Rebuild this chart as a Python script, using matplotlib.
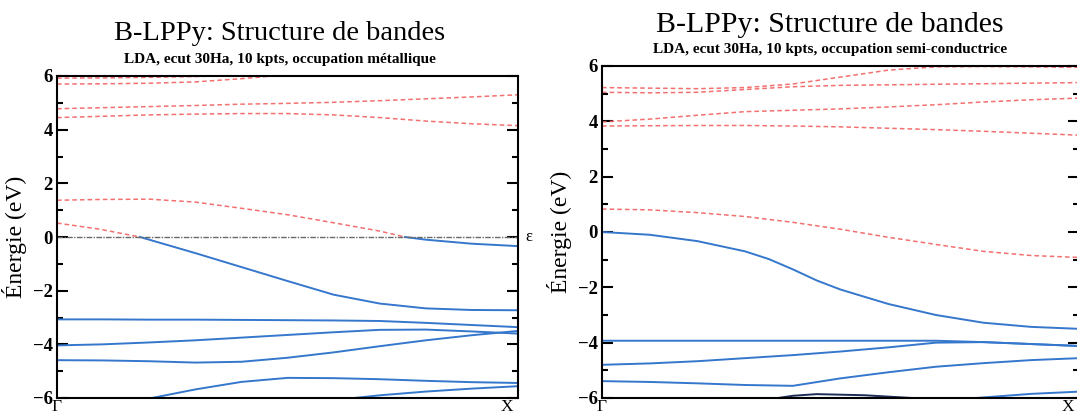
import numpy as np
import matplotlib
matplotlib.use("Agg")
import matplotlib.pyplot as plt
from matplotlib.ticker import MultipleLocator

plt.rcParams['font.family'] = ['Liberation Serif', 'DejaVu Serif']

# k-path fraction between Gamma and X
k = [0.0, 0.1, 0.2, 0.3, 0.4, 0.5, 0.6, 0.7, 0.8, 0.9, 1.0]

# ---- left panel: metallic occupation (energies in eV) ----
met_cond = [
    (k, [5.92, 5.93, 5.95, 5.98, 6.02, 6.05, 6.05, 6.05, 6.05, 6.03, 6.02]),
    (k, [5.70, 5.71, 5.73, 5.78, 5.90, 6.05, 6.10, 6.12, 6.12, 6.12, 6.12]),
    (k, [4.78, 4.82, 4.86, 4.90, 4.95, 4.98, 5.02, 5.08, 5.15, 5.22, 5.30]),
    (k, [4.45, 4.50, 4.55, 4.58, 4.60, 4.60, 4.55, 4.45, 4.32, 4.22, 4.15]),
    ([0.0, 0.1, 0.2, 0.3, 0.4, 0.5, 0.6, 0.7, 0.755],
     [1.37, 1.40, 1.41, 1.30, 1.07, 0.83, 0.53, 0.22, 0.0]),
    ([0.0, 0.093, 0.18], [0.52, 0.29, 0.0]),
]
met_val = [
    ([0.755, 0.8, 0.9, 1.0], [0.0, -0.10, -0.25, -0.34]),
    ([0.18, 0.3, 0.4, 0.5, 0.6, 0.7, 0.8, 0.9, 1.0],
     [0.0, -0.60, -1.12, -1.64, -2.15, -2.48, -2.66, -2.72, -2.73]),
    (k, [-3.07, -3.07, -3.08, -3.08, -3.09, -3.10, -3.11, -3.13, -3.20, -3.28, -3.36]),
    (k, [-4.04, -4.00, -3.93, -3.85, -3.75, -3.65, -3.55, -3.46, -3.45, -3.52, -3.60]),
    (k, [-4.59, -4.60, -4.63, -4.68, -4.65, -4.50, -4.30, -4.07, -3.85, -3.66, -3.50]),
    (k, [-6.60, -6.30, -6.02, -5.68, -5.40, -5.25, -5.26, -5.30, -5.36, -5.41, -5.44]),
    ([0.5, 0.6, 0.7, 0.8, 0.9, 1.0], [-6.30, -6.08, -5.90, -5.76, -5.65, -5.56]),
]

# ---- right panel: semiconductor occupation ----
sc_cond = [
    (k, [5.22, 5.20, 5.18, 5.22, 5.35, 5.60, 5.85, 5.97, 5.98, 5.97, 5.95]),
    (k, [5.05, 5.03, 5.05, 5.15, 5.25, 5.30, 5.32, 5.34, 5.36, 5.38, 5.40]),
    (k, [3.98, 4.08, 4.22, 4.35, 4.40, 4.45, 4.52, 4.60, 4.70, 4.78, 4.84]),
    (k, [3.83, 3.84, 3.85, 3.85, 3.83, 3.80, 3.75, 3.70, 3.64, 3.57, 3.50]),
    (k, [0.83, 0.80, 0.70, 0.56, 0.35, 0.10, -0.19, -0.45, -0.70, -0.85, -0.92]),
]
sc_val = [
    ([0.0, 0.1, 0.2, 0.3, 0.35, 0.4, 0.45, 0.5, 0.6, 0.7, 0.8, 0.9, 1.0],
     [0.0, -0.10, -0.33, -0.70, -0.98, -1.35, -1.75, -2.08, -2.60, -3.00, -3.28, -3.43, -3.50]),
    (k, [-3.93, -3.93, -3.93, -3.93, -3.93, -3.93, -3.93, -3.93, -3.98, -4.05, -4.12]),
    (k, [-4.80, -4.75, -4.67, -4.56, -4.45, -4.32, -4.17, -4.00, -3.98, -4.05, -4.12]),
    (k, [-5.39, -5.42, -5.47, -5.53, -5.56, -5.29, -5.07, -4.87, -4.74, -4.63, -4.56]),
    ([0.7, 0.8, 0.9, 1.0], [-6.10, -5.98, -5.85, -5.77]),
]
sc_deep = [([0.35, 0.4, 0.45, 0.55, 0.65, 0.7], [-6.05, -5.92, -5.86, -5.90, -6.0, -6.1])]

titles = ["B-LPPy: Structure de bandes", "B-LPPy: Structure de bandes"]
subtitles = ["LDA, ecut 30Ha, 10 kpts, occupation métallique",
             "LDA, ecut 30Ha, 10 kpts, occupation semi-conductrice"]

blue = '#3577cc'
red = '#f26060'

W, H = 1077, 418
fig = plt.figure(figsize=(W / 100, H / 100), dpi=100)
ax1 = fig.add_axes([57 / W, 20 / H, 461 / W, 322 / H])
ax2 = fig.add_axes([602 / W, 20 / H, 477 / W, 332 / H])


def draw(ax, cond, val, deep=()):
    for kk, e in cond:
        ax.plot(kk, e, color=red, lw=1.1, ls=(0, (3, 2)), alpha=0.9)
    for kk, e in val:
        ax.plot(kk, e, color=blue, lw=1.4)
    for kk, e in deep:
        ax.plot(kk, e, color='#1c2c55', lw=1.4)
    ax.set_xlim(0, 1)
    ax.set_ylim(-6, 6)
    ax.yaxis.set_major_locator(MultipleLocator(2))
    ax.yaxis.set_minor_locator(MultipleLocator(1))
    ax.set_xticks([])
    ax.tick_params(axis='y', which='both', direction='in', right=True,
                   width=1.5, labelsize=13.5, pad=3)
    ax.tick_params(axis='y', which='major', length=8)
    ax.tick_params(axis='y', which='minor', length=4)
    for lab in ax.get_yticklabels():
        lab.set_fontweight('bold')
    for s in ax.spines.values():
        s.set_linewidth(1.5)
    ax.set_ylabel("Énergie (eV)", fontsize=17, labelpad=4)
    ax.text(0, -6.02, "Γ", ha='center', va='top', fontsize=12.5)
    ax.text(0.99, -6.02, "X", ha='right', va='top', fontsize=12.5)


draw(ax1, met_cond, met_val)
ax1.axhline(0, color='#6a6a6a', lw=1.0, ls=(0, (4, 1, 1, 1)))
ax1.text(1.015, 0, "ε", ha='left', va='center', fontsize=12,
         transform=ax1.get_yaxis_transform())
draw(ax2, sc_cond, sc_val, sc_deep)

fig.text(280 / W, 1 - 33 / H, titles[0], ha='center', va='center', fontsize=20.5)
fig.text(280 / W, 1 - 60 / H, subtitles[0], ha='center', va='center',
         fontsize=11, fontweight='bold')
fig.text(830 / W, 1 - 25 / H, titles[1], ha='center', va='center', fontsize=21.5)
fig.text(830 / W, 1 - 50 / H, subtitles[1], ha='center', va='center',
         fontsize=11, fontweight='bold')

fig.savefig("out.png", dpi=100)
